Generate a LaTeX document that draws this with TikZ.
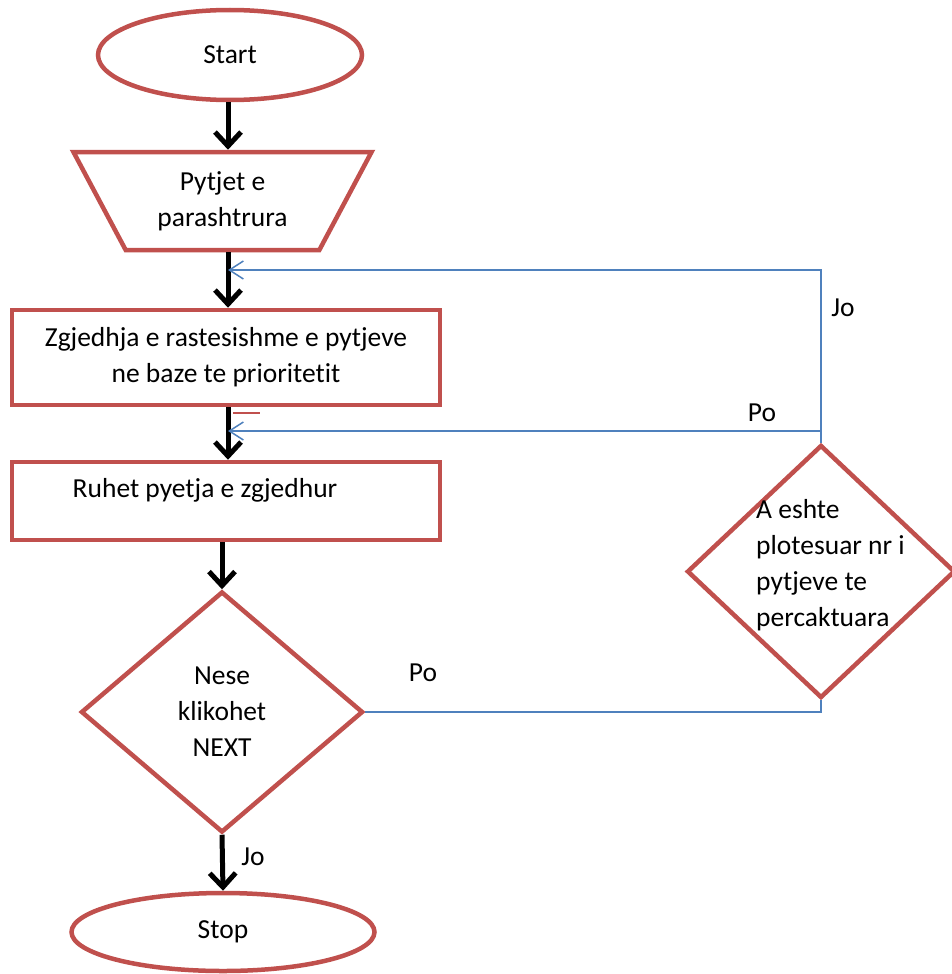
\documentclass[tikz,border=0pt]{standalone}
\usepackage{fontspec}
\setmainfont{Carlito}[Ligatures=NoCommon]
\usetikzlibrary{shapes.geometric,arrows.meta}
\definecolor{boxred}{RGB}{192,80,77}
\definecolor{linkblue}{RGB}{79,129,189}
\begin{document}
\begin{tikzpicture}[x=1pt,y=-1pt,
  font=\fontsize{27.5}{36}\selectfont,
  box/.style={draw=boxred,line width=4.5pt,inner sep=0pt,align=center},
  lbl/.style={inner sep=0pt},
  flow/.style={line width=5pt,-{Straight Barb[length=14pt,width=26pt]}},
  back/.style={draw=linkblue,line width=1.5pt},
  backarr/.style={back,-{Straight Barb[length=14pt,width=18pt]}}]
  \useasboundingbox (0,0) rectangle (951,974);
  \coordinate (axis) at (228,0);
  \coordinate (jturn) at (821,270);
  \coordinate (pturn) at (821,431);
  \node[box,ellipse,minimum width=264pt,minimum height=90pt] (start) at (230,55) {Start};
  \node[box,trapezium,trapezium stretches=true,shape border rotate=180,
        trapezium left angle=59.4,trapezium right angle=59.4,
        minimum width=299pt,minimum height=98pt] (pyt) at (222.5,201) {Pytjet e\\parashtrura};
  \node[box,minimum width=428pt,minimum height=95pt] (zgj) at (226,357.5)
        {Zgjedhja e rastesishme e pytjeve\\ne baze te prioritetit};
  \node[box,minimum width=428pt,minimum height=78pt] (ruh) at (226,501) {};
  \node[lbl] (ruhtxt) at (205,490) {Ruhet pyetja e zgjedhur};
  \node[box,diamond,minimum width=282pt,minimum height=241pt] (next) at (222,712)
        {Nese\\klikohet\\NEXT};
  \node[box,ellipse,minimum width=303pt,minimum height=78pt] (stop) at (223,932) {Stop};
  \node[box,diamond,minimum width=268pt,minimum height=253pt] (qdia) at (821,571.5) {};
  \node[lbl,anchor=west,align=left] (qtxt) at (756,565)
        {A eshte\\plotesuar nr i\\pytjeve te\\percaktuara};
  \draw[flow] (start.south -| axis) -- (pyt.north -| axis);
  \draw[flow] (pyt.south -| axis) -- (zgj.north -| axis);
  \draw[flow] (zgj.south -| axis) -- (ruh.north -| axis);
  \draw[flow] (ruh.south -| next.north) -- (next.north);
  \draw[flow] (next.south) -- (stop.north);
  \draw[back] (next.east) -| (qdia.south);
  \draw[back] (qdia.north) -- (pturn);
  \draw[backarr] (pturn) -- (pturn -| axis);
  \draw[backarr] (pturn) -- (jturn) -- (jturn -| axis);
  \draw[boxred,line width=1.2pt] (233,413) -- (260,413);
  \node[lbl] (po1) at (423,673) {Po};
  \node[lbl] (po2) at (762,413) {Po};
  \node[lbl] (jo1) at (843,308) {Jo};
  \node[lbl] (jo2) at (253,857) {Jo};
\end{tikzpicture}
\end{document}
